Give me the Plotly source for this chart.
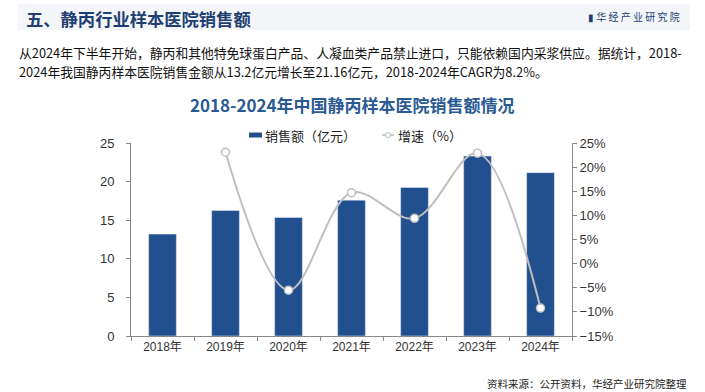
import plotly.graph_objects as go

years = ["2018年", "2019年", "2020年", "2021年", "2022年", "2023年", "2024年"]
sales = [13.2, 16.25, 15.35, 17.6, 19.25, 23.3, 21.16]
growth = [None, 23.1, -5.5, 14.7, 9.4, 22.9, -9.2]

FONT = "Liberation Sans, Noto Sans CJK SC, sans-serif"
CJK = "Noto Sans CJK SC, sans-serif"
BLUE = "#22508F"
GREY = "#BFBFBF"

fig = go.Figure()
fig.add_trace(go.Bar(x=years, y=sales, name="销售额（亿元）", marker_color=BLUE,
                     width=0.44, yaxis="y"))
fig.add_trace(go.Scatter(x=years, y=growth, name="增速（%）", mode="lines+markers",
                         line=dict(color=GREY, width=2, shape="spline", smoothing=1.0),
                         marker=dict(symbol="circle", size=8, color="white",
                                     line=dict(color=GREY, width=1.5)),
                         yaxis="y2", connectgaps=False))

L, R, T, B = 131, 133, 143, 55.5
PW, PH = 705 - L - R, 392 - T - B

def py(pix):
    return 1 + (T - pix) / PH

def px(pix):
    return (pix - L) / PW

fig.update_layout(
    width=705, height=392,
    margin=dict(l=L, r=R, t=T, b=B),
    paper_bgcolor="white", plot_bgcolor="white",
    font=dict(family=FONT, size=12, color="#333333"),
    showlegend=False,
    xaxis=dict(type="category", showline=True, linecolor="#888888", linewidth=1,
               ticks="outside", ticklen=4, tickcolor="#888888", tickson="boundaries",
               showgrid=False, tickfont=dict(family=FONT, size=12, color="#333333")),
    yaxis=dict(range=[0, 25], dtick=5, showline=True, linecolor="#888888",
               ticks="outside", ticklen=4, tickcolor="#888888", showgrid=False,
               zeroline=False, ticklabelstandoff=9,
               tickfont=dict(family=FONT, size=13, color="#333333")),
    yaxis2=dict(range=[-15, 25], dtick=5, ticksuffix="%", overlaying="y", side="right",
                showline=True, linecolor="#888888", ticks="outside", ticklen=4,
                tickcolor="#888888", showgrid=False, zeroline=False,
                tickfont=dict(family=FONT, size=13, color="#333333")),
)

# header band
fig.add_shape(type="rect", xref="paper", yref="paper",
              x0=px(18), x1=px(690), y0=py(30), y1=py(4),
              fillcolor="#F3F5F8", line_width=0, layer="below")

# manual legend
fig.add_shape(type="rect", xref="paper", yref="paper",
              x0=px(249), x1=px(262), y0=py(137.5), y1=py(132.5),
              fillcolor=BLUE, line_width=0)
fig.add_shape(type="line", xref="paper", yref="paper",
              x0=px(382), x1=px(394), y0=py(135), y1=py(135),
              line=dict(color=GREY, width=1.5))
fig.add_shape(type="circle", xref="paper", yref="paper",
              x0=px(385.5), x1=px(390.5), y0=py(137.5), y1=py(132.5),
              fillcolor="white", line=dict(color=GREY, width=1))
fig.add_annotation(text="销售额（亿元）", xref="paper", yref="paper",
                   x=px(263), y=py(135), xanchor="left", yanchor="middle", showarrow=False,
                   font=dict(family=CJK, size=13, color="#222222"))
fig.add_annotation(text="增速（%）", xref="paper", yref="paper",
                   x=px(396), y=py(135), xanchor="left", yanchor="middle", showarrow=False,
                   font=dict(family=CJK, size=13, color="#222222"))

fig.add_annotation(text="<b>五、静丙行业样本医院销售额</b>", xref="paper", yref="paper",
                   x=px(24), y=py(18), xanchor="left", yanchor="middle", showarrow=False,
                   font=dict(family=CJK, size=17.3, color="#1F3F73"))
fig.add_annotation(text="▮ 华 经 产 业 研 究 院", xref="paper", yref="paper",
                   x=px(682), y=py(16), xanchor="right", yanchor="middle", showarrow=False,
                   font=dict(family=CJK, size=10, color="#1F3F73"))
fig.add_annotation(text="从2024年下半年开始，静丙和其他特免球蛋白产品、人凝血类产品禁止进口，只能依赖国内采浆供应。据统计，2018-",
                   xref="paper", yref="paper", x=px(17), y=py(52), xanchor="left", yanchor="middle",
                   showarrow=False, font=dict(family=CJK, size=12.8, color="#111111"))
fig.add_annotation(text="2024年我国静丙样本医院销售金额从13.2亿元增长至21.16亿元，2018-2024年CAGR为8.2%。",
                   xref="paper", yref="paper", x=px(17), y=py(71), xanchor="left", yanchor="middle",
                   showarrow=False, font=dict(family=CJK, size=12.8, color="#111111"))
fig.add_annotation(text="<b>2018-2024年中国静丙样本医院销售额情况</b>", xref="paper", yref="paper",
                   x=px(352), y=py(104), xanchor="center", yanchor="middle", showarrow=False,
                   font=dict(family=CJK, size=17, color="#2A5A94"))
fig.add_annotation(text="资料来源：公开资料，华经产业研究院整理", xref="paper", yref="paper",
                   x=px(689), y=py(384), xanchor="right", yanchor="middle", showarrow=False,
                   font=dict(family=CJK, size=10.5, color="#222222"))

fig.write_html("out.html", config={"displayModeBar": False},
               post_script="document.body.style.margin='0';document.body.style.overflow='hidden';")
